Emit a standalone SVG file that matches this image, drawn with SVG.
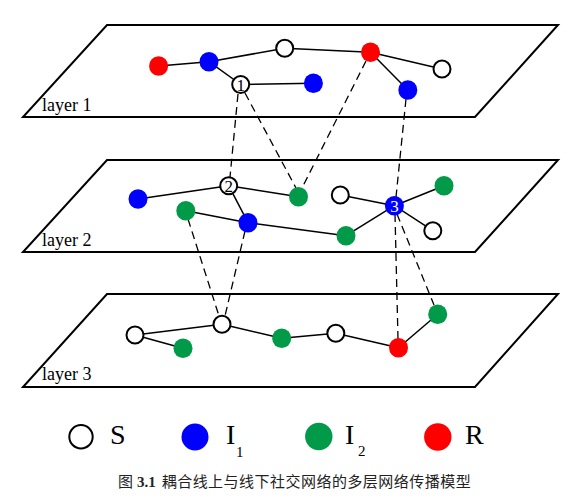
<svg xmlns="http://www.w3.org/2000/svg" width="586" height="500" viewBox="0 0 586 500">
<style>
.plane{fill:none;stroke:#000;stroke-width:2;stroke-linejoin:miter}
.e{stroke:#000;stroke-width:1.5;fill:none}
.d{stroke:#000;stroke-width:1.3;fill:none;stroke-dasharray:8,5}
.S{fill:#fff;stroke:#000;stroke-width:2}
.I1{fill:#0000ff}
.I2{fill:#009a48}
.R{fill:#ff0000}
.lay{font-family:"Liberation Serif","Times New Roman",serif;font-size:18px;fill:#000}
.num{font-family:"Liberation Serif","Times New Roman",serif;font-size:17px;text-anchor:middle}
.leg{font-family:"Liberation Serif","Times New Roman",serif;font-size:28px;fill:#000}
.sub{font-family:"Liberation Serif","Times New Roman",serif;font-size:15px;fill:#000}
.cap{font-family:"Liberation Serif","Noto Sans CJK SC",serif;font-size:15px;fill:#222}
</style>
<rect width="586" height="500" fill="#fff"/>
<g id="planes">
<polygon class="plane" points="107,25 558,25 475,117 23,117"/>
<polygon class="plane" points="107,160 558,160 475,252 23,252"/>
<polygon class="plane" points="107,294 558,294 475,387 23,387"/>
<text class="lay" x="42" y="111">layer 1</text>
<text class="lay" x="42" y="246">layer 2</text>
<text class="lay" x="42" y="380">layer 3</text>
</g>
<g id="connectors">
<line class="e" x1="158.6" y1="66" x2="209" y2="61.7"/>
<line class="e" x1="209" y1="61.7" x2="284.7" y2="48.3"/>
<line class="e" x1="209" y1="61.7" x2="240.7" y2="84.5"/>
<line class="e" x1="284.7" y1="48.3" x2="370.5" y2="52.3"/>
<line class="e" x1="370.5" y1="52.3" x2="442" y2="69"/>
<line class="e" x1="370.5" y1="52.3" x2="407.8" y2="90"/>
<line class="e" x1="240.7" y1="84.5" x2="313.4" y2="83.3"/>
<line class="e" x1="138" y1="199" x2="228.7" y2="185.7"/>
<line class="e" x1="228.7" y1="185.7" x2="298.5" y2="196.7"/>
<line class="e" x1="228.7" y1="185.7" x2="248" y2="222.7"/>
<line class="e" x1="185.8" y1="210.7" x2="248" y2="222.7"/>
<line class="e" x1="248" y1="222.7" x2="346" y2="235.7"/>
<line class="e" x1="346" y1="235.7" x2="394.4" y2="205.7"/>
<line class="e" x1="340.3" y1="195" x2="394.4" y2="205.7"/>
<line class="e" x1="394.4" y1="205.7" x2="444" y2="185.7"/>
<line class="e" x1="394.4" y1="205.7" x2="432.8" y2="230.7"/>
<line class="e" x1="135" y1="335" x2="183" y2="348.3"/>
<line class="e" x1="135" y1="335" x2="222" y2="324.3"/>
<line class="e" x1="222" y1="324.3" x2="281.7" y2="338.3"/>
<line class="e" x1="281.7" y1="338.3" x2="335.8" y2="333.3"/>
<line class="e" x1="335.8" y1="333.3" x2="398.5" y2="347.7"/>
<line class="e" x1="398.5" y1="347.7" x2="437.7" y2="314.3"/>
<line class="d" x1="238" y1="94" x2="230" y2="177"/>
<line class="d" x1="245" y1="93" x2="296" y2="188"/>
<line class="d" x1="366" y1="61" x2="302" y2="188"/>
<line class="d" x1="406" y1="99" x2="396" y2="197"/>
<line class="d" x1="188" y1="219" x2="219" y2="316"/>
<line class="d" x1="245" y1="231" x2="225" y2="316"/>
<line class="d" x1="395" y1="214" x2="398" y2="339"/>
<line class="d" x1="397" y1="214" x2="434" y2="305"/>
</g>
<g id="layer1-nodes">
<ellipse id="l1-r1" class="R" cx="158.6" cy="66" rx="9.5" ry="9.8"/>
<ellipse id="l1-b1" class="I1" cx="209" cy="61.7" rx="9.5" ry="9.8"/>
<circle id="l1-s1" class="S" cx="284.7" cy="48.3" r="8.5"/>
<ellipse id="l1-r2" class="R" cx="370.5" cy="52.3" rx="9.5" ry="9.8"/>
<circle id="l1-s2" class="S" cx="442" cy="69" r="8.5"/>
<ellipse id="l1-b2" class="I1" cx="407.8" cy="90" rx="9.5" ry="9.8"/>
<g id="node1"><circle class="S" cx="240.7" cy="84.5" r="8.5"/><text class="num" x="240.7" y="90.5">1</text></g>
<ellipse id="l1-b3" class="I1" cx="313.4" cy="83.3" rx="9.5" ry="9.8"/>
</g>
<g id="layer2-nodes">
<ellipse id="l2-b1" class="I1" cx="138" cy="199" rx="9.5" ry="9.8"/>
<g id="node2"><circle class="S" cx="228.7" cy="185.7" r="8.5"/><text class="num" x="228.7" y="191.7">2</text></g>
<ellipse id="l2-g1" class="I2" cx="298.5" cy="196.7" rx="9.5" ry="9.8"/>
<circle id="l2-s1" class="S" cx="340.3" cy="195" r="8.5"/>
<g id="node3"><ellipse class="I1" cx="394.4" cy="205.7" rx="9.5" ry="9.8"/><text class="num" x="394.4" y="211.7" fill="#fff">3</text></g>
<ellipse id="l2-g2" class="I2" cx="444" cy="185.7" rx="9.5" ry="9.8"/>
<circle id="l2-s2" class="S" cx="432.8" cy="230.7" r="8.5"/>
<ellipse id="l2-g3" class="I2" cx="185.8" cy="210.7" rx="9.5" ry="9.8"/>
<ellipse id="l2-b2" class="I1" cx="248" cy="222.7" rx="9.5" ry="9.8"/>
<ellipse id="l2-g4" class="I2" cx="346" cy="235.7" rx="9.5" ry="9.8"/>
</g>
<g id="layer3-nodes">
<circle id="l3-s1" class="S" cx="135" cy="335" r="8.5"/>
<ellipse id="l3-g1" class="I2" cx="183" cy="348.3" rx="9.5" ry="9.8"/>
<circle id="l3-s2" class="S" cx="222" cy="324.3" r="8.5"/>
<ellipse id="l3-g2" class="I2" cx="281.7" cy="338.3" rx="9.5" ry="9.8"/>
<circle id="l3-s3" class="S" cx="335.8" cy="333.3" r="8.5"/>
<ellipse id="l3-r1" class="R" cx="398.5" cy="347.7" rx="9.5" ry="9.8"/>
<ellipse id="l3-g3" class="I2" cx="437.7" cy="314.3" rx="9.5" ry="9.8"/>
</g>
<g id="legend">
<circle class="S" cx="81" cy="436.7" r="11.7" stroke-width="2.4"/>
<text class="leg" x="110" y="443.5">S</text>
<circle class="I1" cx="195" cy="437" r="13.5"/>
<text class="leg" x="226" y="444">I</text><text class="sub" x="236" y="456.7">1</text>
<circle class="I2" cx="318.8" cy="436.5" r="13.7"/>
<text class="leg" x="345" y="444">I</text><text class="sub" x="358" y="455.7">2</text>
<circle class="R" cx="437.8" cy="437" r="13.7"/>
<text class="leg" x="465" y="443.5">R</text>
</g>
<g id="caption">
<text class="cap" x="118" y="487">图</text>
<text class="cap" x="137" y="487" font-weight="bold" font-size="16">3.1</text>
<text class="cap" x="161.7" y="487" textLength="309" lengthAdjust="spacing">耦合线上与线下社交网络的多层网络传播模型</text>
</g>
</svg>
